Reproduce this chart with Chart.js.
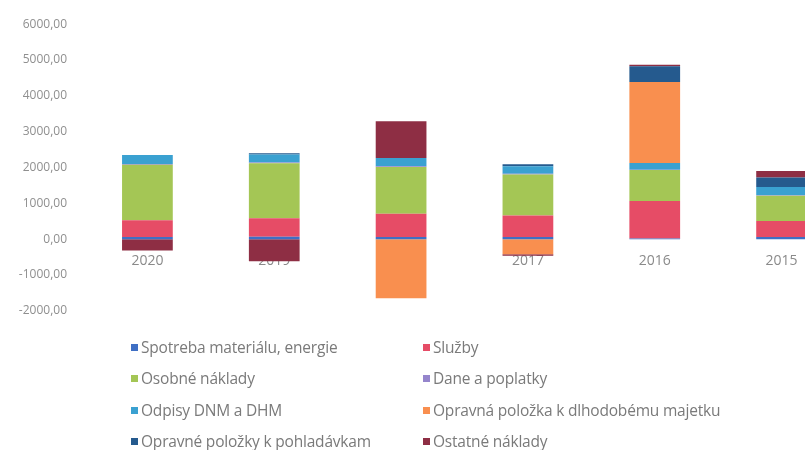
<!DOCTYPE html>
<html>
<head>
<meta charset="utf-8">
<script src="https://cdn.jsdelivr.net/npm/chart.js@4/dist/chart.umd.min.js"></script>
<style>
  html, body { margin: 0; padding: 0; background: #fff; overflow: hidden; width: 805px; height: 450px; }
  #wrap { position: absolute; left: 0; top: 0; width: 845px; height: 335px; }
  #legend { position: absolute; left: 0; top: 0; width: 805px; height: 450px; pointer-events: none;
            font-family: "Open Sans", "Noto Sans", sans-serif; font-size: 15.5px; color: #7a7a7a; }
  .item { position: absolute; white-space: nowrap; line-height: 18px; letter-spacing: -0.2px; }
  .box { display: inline-block; width: 7px; height: 7px; margin-right: 3px; vertical-align: 2px; }
</style>
</head>
<body>
<div id="wrap"><canvas id="c"></canvas></div>
<div id="legend"></div>
<script>
const categories = ['2020', '2019', '2018', '2017', '2016', '2015'];
const seriesNames = [
  'Spotreba materiálu, energie',
  'Služby',
  'Osobné náklady',
  'Dane a poplatky',
  'Odpisy DNM a DHM',
  'Opravná položka k dlhodobému majetku',
  'Opravné položky k pohladávkam',
  'Ostatné náklady'
];
const spotreba    = [60, 70, 60, 60, 20, 60];
const sluzby      = [466, 511, 651, 603, 1042, 450];
const osobne      = [1553, 1536, 1304, 1145, 866, 698];
const dane        = [20, 20, 20, 15, 10, 15];
const odpisy      = [251, 223, 232, 215, 187, 235];
const opravnaDM   = [0, 0, -1650, -420, 2263, 0];
const opravnePohl = [0, 40, 0, 55, 438, 260];
const ostatne     = [-316, -620, 1025, -40, 45, 187];
const yTicks = [-2000, -1000, 0, 1000, 2000, 3000, 4000, 5000, 6000];

const seriesValues = [spotreba, sluzby, osobne, dane, odpisy, opravnaDM, opravnePohl, ostatne];
const colors = ['#3f6fc4', '#e64c66', '#a4c655', '#9585cc', '#3aa1d1', '#f98f4f', '#255a8e', '#8e2e44'];

const datasets = seriesNames.map((name, i) => ({
  label: name,
  data: seriesValues[i],
  backgroundColor: colors[i],
  borderWidth: 0,
  categoryPercentage: 1,
  barPercentage: 0.4
}));

const chart = new Chart(document.getElementById('c'), {
  type: 'bar',
  data: { labels: categories, datasets },
  options: {
    responsive: true,
    maintainAspectRatio: false,
    animation: false,
    layout: { padding: { top: 22, bottom: 11, left: 0, right: 0 } },
    plugins: { legend: { display: false }, tooltip: { enabled: false } },
    scales: {
      x: {
        stacked: true,
        position: { y: 0 },
        z: 1,
        grid: { display: false, drawTicks: false },
        border: { display: false },
        ticks: { color: '#8a8a8a', padding: 13, font: { family: 'Open Sans', size: 14 } }
      },
      y: {
        stacked: true,
        min: -2000,
        max: 6000,
        afterFit: s => { s.width = 84; },
        afterBuildTicks: s => { s.ticks = yTicks.map(v => ({ value: v })); },
        grid: { display: false, drawTicks: false },
        border: { display: false },
        ticks: {
          color: '#8f8f8f',
          padding: 17,
          font: { family: 'Open Sans', size: 12 },
          callback: v => Number(v).toFixed(2).replace('.', ',')
        }
      }
    }
  }
});

// HTML legend built from the chart datasets (2 columns x 4 rows)
const legend = document.getElementById('legend');
const colX = [131, 423];
const rowY = [338, 369, 401, 432];
chart.data.datasets.forEach((ds, i) => {
  const el = document.createElement('div');
  el.className = 'item';
  el.style.left = colX[i % 2] + 'px';
  el.style.top = rowY[Math.floor(i / 2)] + 'px';
  el.innerHTML = '<span class="box" style="background:' + ds.backgroundColor + '"></span>' + ds.label;
  legend.appendChild(el);
});
</script>
</body>
</html>
